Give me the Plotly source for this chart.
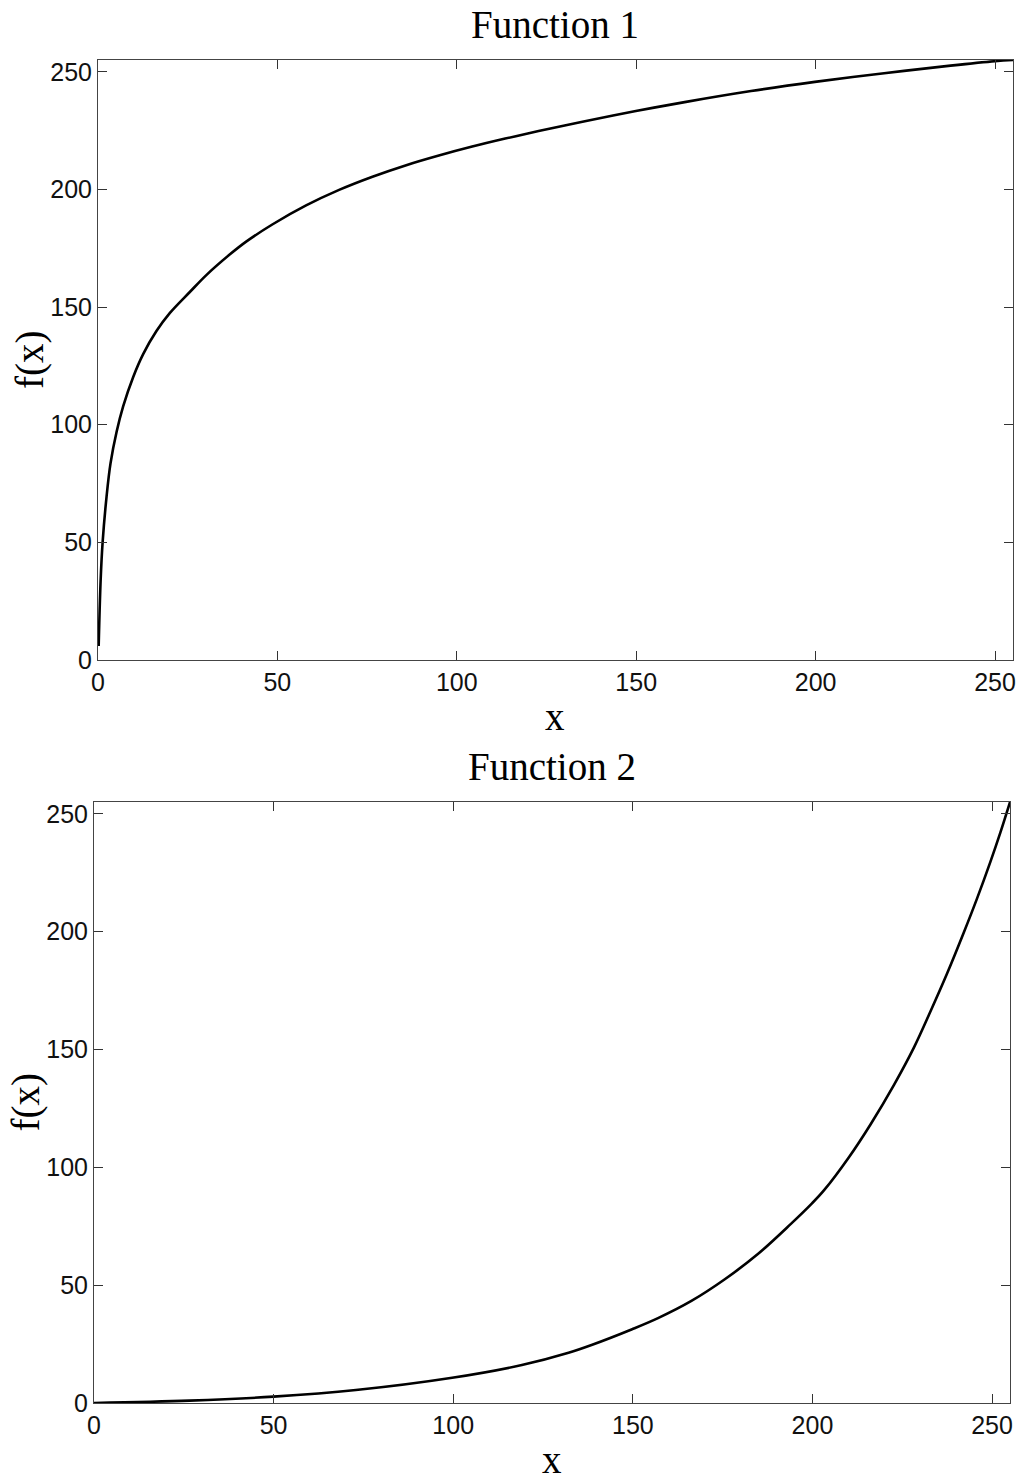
import plotly.graph_objects as go
from plotly.subplots import make_subplots

# values
x_f1 = [0.2, 0.75, 1.3, 2.4, 3.5, 5.2, 7.0, 9.8, 12.6, 16.3, 20, 25.6, 30.2, 36.7,
        41.3, 48.7, 58, 67.2, 76.5, 85.7, 95, 104.3, 113.5, 122.8, 135.7, 149.9,
        163.5, 182, 199.8, 219.1, 237.6, 250, 255]
y_f1 = [6, 34, 50, 69.5, 83.6, 97, 107.7, 120.2, 130, 139.8, 147.4, 156.4, 163.6, 172.3,
        177.8, 185.2, 193.2, 199.8, 205.4, 210.2, 214.4, 218.2, 221.6, 224.8, 229, 233.3,
        237.1, 241.8, 245.7, 249.4, 252.6, 254.5, 255]

x_f2 = [0, 26.6, 50, 72.9, 99.7, 119.1, 132.1, 138.5, 149.8, 157, 166.3, 175.6, 184.8,
        194, 199.8, 203.3, 210.2, 216.2, 222.7, 228.3, 232.9, 237.5, 242.1, 245.8,
        249.5, 252.3, 255]
y_f2 = [0, 1.0, 2.7, 5.5, 10.7, 16.1, 21.3, 24.6, 31.3, 36, 43.3, 52.5, 63.2,
        76, 84.6, 90.4, 104.4, 118.3, 135, 151, 166.3, 182.3, 199.5, 214,
        229.5, 242, 255]

titles = ["Function 1", "Function 2"]
tick_vals = [0, 50, 100, 150, 200, 250]

serif = "Liberation Serif, Times New Roman, serif"
sans = "Liberation Sans, Arial, sans-serif"

fig = make_subplots(rows=2, cols=1, vertical_spacing=0.106)

fig.add_trace(go.Scatter(x=x_f1, y=y_f1, mode="lines", line_shape="spline",
                         line=dict(color="black", width=2.6, smoothing=1.0)), row=1, col=1)
fig.add_trace(go.Scatter(x=x_f2, y=y_f2, mode="lines", line_shape="spline",
                         line=dict(color="black", width=2.6, smoothing=1.0)), row=2, col=1)

axis_style = dict(range=[0, 255], tickvals=tick_vals, ticks="inside", ticklen=9,
                  tickcolor="#333", showline=True, linecolor="#444", linewidth=1,
                  mirror="ticks", showgrid=False, zeroline=False,
                  tickfont=dict(family=sans, size=25, color="#111"))
fig.update_xaxes(**axis_style)
fig.update_yaxes(**axis_style)

fig.update_layout(xaxis=dict(domain=[0.0043, 0.9989]), xaxis2=dict(domain=[0.0, 0.9957]),
                  yaxis=dict(domain=[0.5532, 1.0]), yaxis2=dict(domain=[0.0, 0.4475]))

annotations = []
for i, t in enumerate(titles):
    xr = "x domain" if i == 0 else "x2 domain"
    yr = "y domain" if i == 0 else "y2 domain"
    annotations.append(dict(text=t, x=0.5, y=1, xref=xr, yref=yr, xanchor="center",
                            yanchor="bottom", yshift=13, borderpad=0, showarrow=False,
                            font=dict(family=serif, size=39, color="black")))
    annotations.append(dict(text="x", x=0.5, y=0, xref=xr, yref=yr, xanchor="center",
                            yanchor="middle", yshift=-56, borderpad=0, showarrow=False,
                            font=dict(family=serif, size=39, color="black")))
    annotations.append(dict(text="f(x)", x=0, y=0.5, xref=xr, yref=yr, xanchor="center",
                            yanchor="middle", xshift=-68, textangle=-90, borderpad=0,
                            showarrow=False,
                            font=dict(family=serif, size=39, color="black")))

# page body has an 8px margin, so the figure is 8px smaller than the window
fig.update_layout(
    width=1016, height=1472,
    paper_bgcolor="white", plot_bgcolor="white",
    showlegend=False,
    margin=dict(l=86, r=7, t=52, b=77),
    annotations=annotations,
)

fig.write_html("out.html")
